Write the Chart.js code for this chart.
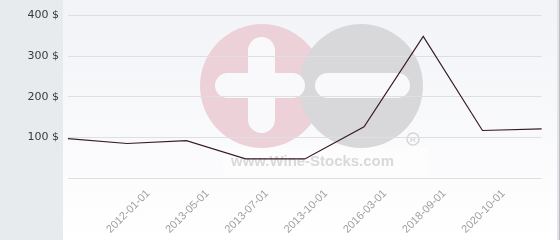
<!DOCTYPE html>
<html>
<head>
<meta charset="utf-8">
<style>
  html, body { margin: 0; padding: 0; background: #ffffff; }
  #wrap { width: 560px; height: 240px; position: relative; }
</style>
<script src="https://cdn.jsdelivr.net/npm/chart.js@4/dist/chart.umd.min.js"></script>
</head>
<body>
<div id="wrap"><canvas id="c" width="560" height="240"></canvas></div>
<script>
// Data
const categories = ['', '2012-01-01', '2013-05-01', '2013-07-01', '2013-10-01', '2016-03-01', '2018-09-01', '2020-10-01', ''];
const prices = [97, 85, 92, 47, 47, 126, 349, 117, 121];
const yTickValues = [0, 100, 200, 300, 400];
const currencySuffix = ' $';
const watermarkText = 'www.Wine-Stocks.com';

function pill(ctx, x, y, w, h) {
  const r = Math.min(w, h) / 2;
  ctx.beginPath();
  ctx.roundRect(x, y, w, h, r);
  ctx.fill();
}

const backgroundPlugin = {
  id: 'bgWatermark',
  beforeDraw(chart) {
    const ctx = chart.ctx;
    ctx.save();
    // left strip
    ctx.fillStyle = '#e8ebee';
    ctx.fillRect(0, 0, 63, 240);
    // main panel gradient
    const g = ctx.createLinearGradient(0, 0, 0, 240);
    g.addColorStop(0, '#f2f3f7');
    g.addColorStop(1, '#ffffff');
    ctx.fillStyle = g;
    ctx.fillRect(63, 0, 495, 240);
    // right border
    ctx.fillStyle = '#e3e5e8';
    ctx.fillRect(557, 0, 2, 240);
    ctx.fillStyle = '#b9bcc0';
    ctx.fillRect(559, 0, 1, 240);

    // watermark
    ctx.fillStyle = 'rgba(255,255,255,0.45)';
    ctx.fillRect(223, 147, 205, 28);
    // pink circle
    ctx.fillStyle = '#ecd1d9';
    ctx.beginPath(); ctx.arc(262, 86, 62, 0, Math.PI * 2); ctx.fill();
    // gray circle
    ctx.fillStyle = '#d8d8da';
    ctx.beginPath(); ctx.arc(361, 86, 62, 0, Math.PI * 2); ctx.fill();
    // plus and minus
    ctx.fillStyle = '#f9f9fb';
    pill(ctx, 248, 37, 27, 96);
    pill(ctx, 215, 73, 90, 25);
    pill(ctx, 315, 73, 95, 25);
    // text
    ctx.fillStyle = '#d9d9db';
    ctx.font = 'bold 15px "Liberation Sans", Arial, sans-serif';
    ctx.textAlign = 'left';
    ctx.textBaseline = 'alphabetic';
    const tw = ctx.measureText(watermarkText).width;
    ctx.translate(231, 166);
    ctx.scale(163 / tw, 1);
    ctx.fillText(watermarkText, 0, 0);
    ctx.setTransform(1, 0, 0, 1, 0, 0);
    // registered mark
    ctx.strokeStyle = '#d6d6d8';
    ctx.lineWidth = 1.5;
    ctx.beginPath(); ctx.arc(413, 139, 6, 0, Math.PI * 2); ctx.stroke();
    ctx.fillStyle = '#d6d6d8';
    ctx.font = 'bold 8px "Liberation Sans", Arial, sans-serif';
    ctx.textAlign = 'center';
    ctx.textBaseline = 'middle';
    ctx.fillText('R', 413, 139.5);
    ctx.restore();
  }
};

new Chart(document.getElementById('c'), {
  type: 'line',
  data: {
    labels: categories,
    datasets: [{
      data: prices,
      borderColor: '#3a1b2c',
      borderWidth: 1.2,
      pointRadius: 0,
      pointHoverRadius: 0,
      tension: 0,
      fill: false
    }]
  },
  options: {
    responsive: false,
    animation: false,
    devicePixelRatio: 1,
    layout: { padding: { left: 0, right: 5, top: 14, bottom: 0 } },
    plugins: { legend: { display: false }, tooltip: { enabled: false } },
    scales: {
      x: {
        type: 'category',
        offset: false,
        border: { display: false },
        grid: { display: false, drawTicks: false },
        ticks: {
          autoSkip: false,
          minRotation: 45,
          maxRotation: 45,
          labelOffset: 21,
          padding: 9,
          color: '#a0a0a0',
          font: { family: '"Liberation Sans", Arial, sans-serif', size: 11 }
        },
        afterFit(scale) { scale.height = 62; }
      },
      y: {
        min: 0,
        max: 400,
        border: { display: false },
        grid: { color: '#dedfe3', lineWidth: 1, drawTicks: false },
        afterBuildTicks(scale) { scale.ticks = yTickValues.map(v => ({ value: v })); },
        ticks: {
          padding: 9,
          color: '#3a3a3a',
          font: { family: '"DejaVu Sans", sans-serif', size: 11 },
          callback: (v) => (v === 0 ? '' : v + currencySuffix)
        },
        afterFit(scale) { scale.width = 68; }
      }
    }
  },
  plugins: [backgroundPlugin]
});
</script>
</body>
</html>
